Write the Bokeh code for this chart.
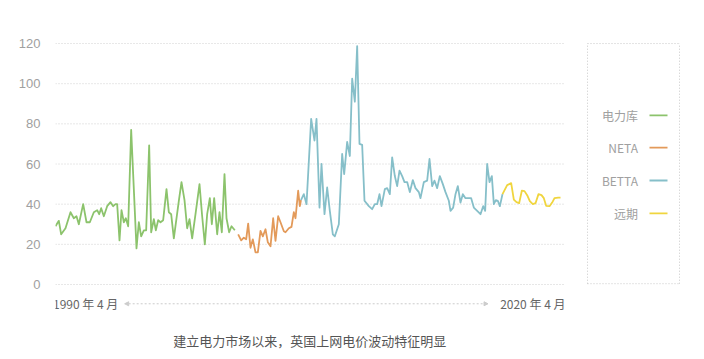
from bokeh.plotting import figure
from bokeh.models import Range1d, Label, Arrow, NormalHead, FixedTicker
from bokeh.embed import file_html
from bokeh.resources import INLINE

# ---- data (decimal year, price) ----
pool_x = [1990.25, 1990.45, 1990.59, 1990.85, 1991.15, 1991.35, 1991.51, 1991.65, 1991.91, 1992.11,
          1992.31, 1992.55, 1992.75, 1992.87, 1992.99, 1993.15, 1993.35, 1993.55, 1993.71, 1993.85,
          1993.95, 1994.09, 1994.21, 1994.35, 1994.47, 1994.61, 1994.79, 1995.11, 1995.25, 1995.39,
          1995.55, 1995.69, 1995.87, 1995.99, 1996.15, 1996.27, 1996.41, 1996.55, 1996.71, 1996.91,
          1997.05, 1997.19, 1997.35, 1997.65, 1997.81, 1997.99, 1998.15, 1998.29, 1998.45, 1998.65,
          1998.89, 1999.05, 1999.21, 1999.35, 1999.51, 1999.63, 1999.77, 1999.95, 2000.09, 2000.23,
          2000.39, 2000.51, 2000.67, 2000.81, 2001.01]
pool_y = [29, 31.7, 25, 28, 36, 33, 34, 30, 40, 31,
          31, 36, 37, 35, 38, 34, 39, 41, 39, 40,
          40, 22, 37, 31, 33, 29, 77, 18, 31, 24,
          27, 27, 69.3, 26, 32.5, 27, 32, 31, 32, 47.5,
          36, 35, 23, 41.7, 51, 42, 28, 32.5, 23, 35,
          50, 34, 20, 35, 43, 30, 43, 25, 36, 26,
          55, 33, 26, 29, 27]

neta_x = [2001.21, 2001.39, 2001.55, 2001.69, 2001.81, 2001.95, 2002.09, 2002.25, 2002.39, 2002.55,
          2002.69, 2002.85, 2002.99, 2003.15, 2003.31, 2003.45, 2003.61, 2003.75, 2003.95, 2004.05,
          2004.25, 2004.41, 2004.55, 2004.65, 2004.81, 2004.91, 2004.98]
neta_y = [25, 22, 23.3, 22.5, 30.3, 18.3, 22.5, 16, 16, 26.7,
          24, 27.5, 21, 19, 33, 21.7, 34, 31, 26.5, 26,
          28, 28.7, 36, 33, 46.7, 39, 42]

betta_x = [2004.98, 2005.15, 2005.31, 2005.59, 2005.79, 2005.91, 2006.09, 2006.21, 2006.39, 2006.55,
           2006.71, 2006.89, 2007.01, 2007.25, 2007.45, 2007.57, 2007.75, 2007.91, 2008.05, 2008.21,
           2008.35, 2008.49, 2008.65, 2008.79, 2009.05, 2009.25, 2009.41, 2009.55, 2009.69, 2009.81,
           2010.01, 2010.15, 2010.31, 2010.45, 2010.61, 2010.75, 2010.89, 2011.05, 2011.19, 2011.35,
           2011.51, 2011.69, 2011.85, 2012.05, 2012.15, 2012.35, 2012.55, 2012.69, 2012.85, 2012.99,
           2013.15, 2013.31, 2013.49, 2013.65, 2013.85, 2013.95, 2014.11, 2014.25, 2014.39, 2014.55,
           2014.69, 2014.85, 2015.05, 2015.19, 2015.35, 2015.55, 2015.75, 2015.91, 2016.03, 2016.15,
           2016.29, 2016.43, 2016.55, 2016.67, 2016.79, 2016.91, 2017.07]
betta_y = [42, 45, 40, 82.5, 71.7, 82.5, 38.3, 60, 35, 48.3,
           36.7, 25, 24, 30, 65, 55, 71, 64, 102.5, 91,
           118.7, 70, 69.5, 41.7, 39, 37.5, 40, 40, 45, 39,
           47.5, 48, 45, 63.3, 54, 49, 56.7, 54, 51, 51,
           46, 52, 48, 46, 43, 51, 51.7, 62.5, 49, 51.7,
           48, 54, 50, 46, 41.7, 36.7, 38.3, 45, 49, 40.8,
           45, 43, 43, 43, 38.3, 36.7, 35, 39, 36.7, 60,
           51, 54, 40, 42, 41.7, 39, 45]

fwd_x = [2017.07, 2017.35, 2017.59, 2017.75, 2017.91, 2018.07, 2018.23, 2018.39, 2018.55, 2018.71,
         2018.89, 2019.05, 2019.23, 2019.41, 2019.55, 2019.69, 2019.89, 2020.05, 2020.19, 2020.41, 2020.55]
fwd_y = [45, 49.5, 50.5, 42.3, 41, 40.5, 46.7, 46.5, 44.5, 41.5,
         40, 40.5, 45, 44.5, 43, 39.2, 39, 40.8, 43, 43.3, 43.3]

series_names = ["电力库", "NETA", "BETTA", "远期"]
series_colors = ["#8cc36c", "#e39a5a", "#86bfc9", "#f0d53e"]
y_ticks = [0, 20, 40, 60, 80, 100, 120]
start_label = "1990 年 4 月"
end_label = "2020 年 4 月"
caption = "建立电力市场以来，英国上网电价波动特征明显"

CJK = "Noto Sans CJK SC"
GREY = "#a0a0a0"
X0, X1 = 1990.25, 2020.85   # extent of the chart's own plotting area

p = figure(width=704, height=359, output_backend="svg", toolbar_location=None,
           x_range=Range1d(X0, 2028.89), y_range=Range1d(-34.86, 138.94),
           min_border_left=55, min_border_right=5, min_border_top=5, min_border_bottom=5)
p.outline_line_color = None
p.background_fill_color = "white"
p.border_fill_color = "white"
p.xaxis.visible = False
p.xgrid.visible = False
p.ygrid.visible = False
p.yaxis.ticker = FixedTicker(ticks=y_ticks)
p.yaxis.axis_line_color = None
p.yaxis.major_tick_line_color = None
p.yaxis.minor_tick_line_color = None
p.yaxis.major_label_text_color = GREY
p.yaxis.major_label_text_font = "Liberation Sans"
p.yaxis.major_label_text_font_size = "13px"
p.yaxis.major_label_standoff = 9

# horizontal dotted grid lines across the chart area only
p.segment(x0=[X0] * len(y_ticks), x1=[X1] * len(y_ticks), y0=y_ticks, y1=y_ticks,
          line_color="#cfcfcf", line_dash="1 2", line_width=1)

for xs, ys, c in zip([pool_x, neta_x, betta_x, fwd_x], [pool_y, neta_y, betta_y, fwd_y], series_colors):
    p.line(xs, ys, line_color=c, line_width=1.8, line_join="round")

# legend box (dotted)
bx0, bx1, by0, by1 = 2022.17, 2027.69, 0.4, 120
p.segment(x0=[bx0, bx1, bx0, bx0], x1=[bx1, bx1, bx0, bx1], y0=[by1, by0, by0, by0], y1=[by1, by1, by1, by0],
          line_color="#c8c8c8", line_dash="1 2", line_width=1)
leg_y = [84.2, 68.2, 51.8, 35.4]
for name, c, yy in zip(series_names, series_colors, leg_y):
    p.add_layout(Label(x=2025.2, y=yy, text=name, text_align="right", text_baseline="middle",
                       text_font=CJK, text_font_size="12px", text_color=GREY))
p.segment(x0=[2025.89] * 4, x1=[2026.97] * 4, y0=leg_y, y1=leg_y, line_color=series_colors, line_width=1.8)

# bottom time labels
p.add_layout(Label(x=1990.1, y=-9.6, text=start_label, text_align="left", text_baseline="middle",
                   text_font=CJK, text_font_size="12px", text_color="#666666"))
p.add_layout(Label(x=X1, y=-9.6, text=end_label, text_align="right", text_baseline="middle",
                   text_font=CJK, text_font_size="12px", text_color="#666666"))
p.add_layout(Arrow(x_start=1994.4, x_end=2016.2, y_start=-9.6, y_end=-9.6,
                   start=NormalHead(size=4, fill_color="#cccccc", line_color="#cccccc"),
                   end=NormalHead(size=4, fill_color="#cccccc", line_color="#cccccc"),
                   line_color="#cccccc", line_dash="2 2", line_width=1))

p.add_layout(Label(x=2005.5, y=-27.8, text=caption, text_align="center", text_baseline="middle",
                   text_font=CJK, text_font_size="13px", text_color="#555555"))

open("out.html", "w").write(file_html(p, INLINE))
